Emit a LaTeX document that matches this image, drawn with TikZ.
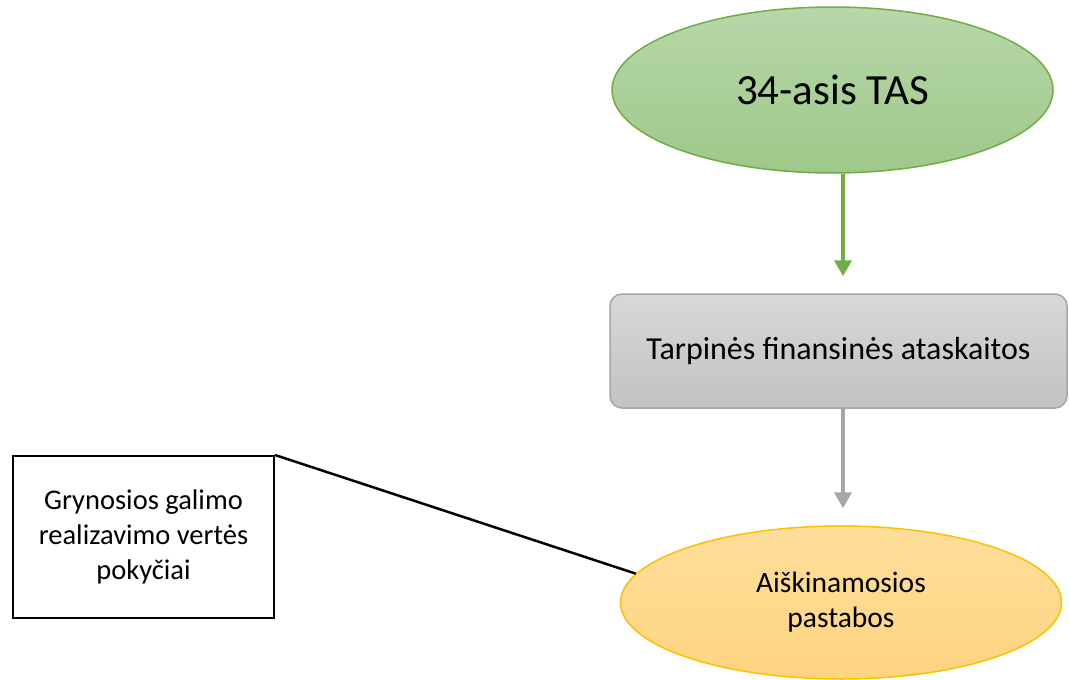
\documentclass[tikz,border=0pt]{standalone}
\usepackage{fontspec}
\setmainfont{Carlito}
\usetikzlibrary{shapes.geometric,arrows.meta}
\definecolor{leafgreen}{RGB}{112,173,71}
\definecolor{leaftop}{RGB}{183,215,168}
\definecolor{leafbot}{RGB}{158,200,137}
\definecolor{stonegray}{RGB}{166,166,166}
\definecolor{stonetop}{RGB}{216,216,216}
\definecolor{stonebot}{RGB}{194,194,194}
\definecolor{sunedge}{RGB}{255,192,0}
\definecolor{suntop}{RGB}{255,222,155}
\definecolor{sunbot}{RGB}{254,212,128}
\tikzstyle{oval}=[ellipse, inner sep=0pt, align=center, line width=1.5pt]
\tikzstyle{bigtext}=[font=\fontsize{43}{50}\selectfont]
\tikzstyle{smalltext}=[font=\fontsize{28.5}{35}\selectfont, align=center]
\tikzstyle{flow}=[line width=4pt, -{Triangle[length=16pt,width=17pt]}]

\begin{document}
\begin{tikzpicture}[x=1pt, y=-1pt]
\useasboundingbox (0,0) rectangle (1069,680);
% Shapes
    \node[oval, bigtext, draw=leafgreen, top color=leaftop, bottom color=leafbot,
          minimum width=441pt, minimum height=166pt] (tas) at (832.5,90) {34-asis TAS};
    \node[smalltext, font=\fontsize{32}{38}\selectfont, draw=stonegray, line width=1.5pt,
          rounded corners=12pt, top color=stonetop, bottom color=stonebot,
          minimum width=457pt, minimum height=114pt] (tarp) at (838.5,351)
          {Tarpinės finansinės ataskaitos};
    \node[oval, smalltext, font=\fontsize{29.5}{35}\selectfont, draw=sunedge,
          top color=suntop, bottom color=sunbot,
          minimum width=441pt, minimum height=153pt] (pastabos) at (841,602.5)
          {Aiškinamosios\\pastabos};
    \node[smalltext, draw, line width=2pt, minimum width=261pt, minimum height=162pt]
          (pokyciai) at (143.5,537) {Grynosios galimo\\realizavimo vertės\\pokyčiai};
% Arrows
    \draw[flow, leafgreen] ([xshift=10.5pt]tas.south) -- ([xshift=4.5pt,yshift=17pt]tarp.north);
    \draw[flow, stonegray] ([xshift=4.5pt]tarp.south) -- ([xshift=2pt,yshift=17pt]pastabos.north);
% Link
    \draw[line width=2.5pt] (pokyciai.north east) -- (pastabos.172);
\end{tikzpicture}
\end{document}
